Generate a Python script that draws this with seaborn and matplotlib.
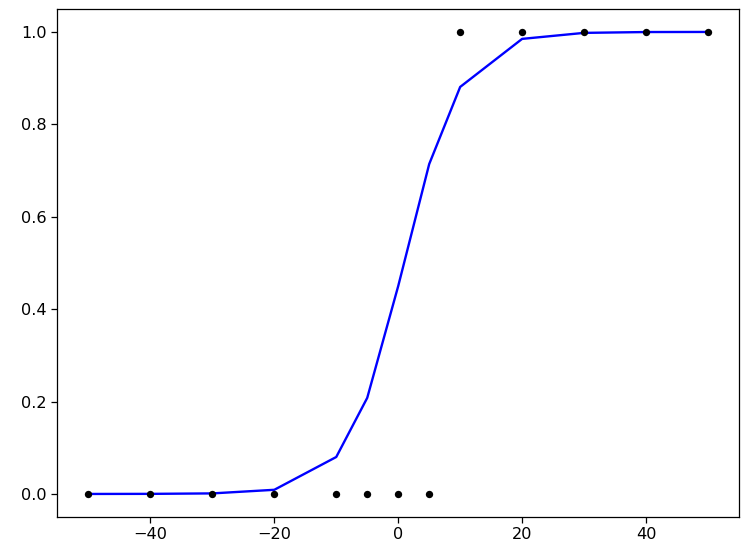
import matplotlib
matplotlib.use('Agg')
import matplotlib.pyplot as plt
import seaborn as sns

# observed data (binary outcome)
x_obs = [-50, -40, -30, -20, -10, -5, 0, 5, 10, 20, 30, 40, 50]
y_obs = [0, 0, 0, 0, 0, 0, 0, 0, 1, 1, 1, 1, 1]

# fitted probabilities
y_fit = [0.0, 0.0002, 0.0012, 0.009, 0.08, 0.208, 0.45, 0.714, 0.881, 0.985, 0.998, 0.9998, 1.0]

fig, ax = plt.subplots(figsize=(7.46, 5.53), dpi=100)
sns.scatterplot(x=x_obs, y=y_obs, color='black', s=28, edgecolor='black', linewidth=0, ax=ax, zorder=3)
sns.lineplot(x=x_obs, y=y_fit, color='blue', linewidth=1.7, ax=ax)

ax.tick_params(labelsize=11.6, length=4, width=0.9)
for sp in ax.spines.values():
    sp.set_linewidth(0.9)
plt.subplots_adjust(left=0.077, right=0.9906, top=0.984, bottom=0.065)
plt.savefig('out.png')
